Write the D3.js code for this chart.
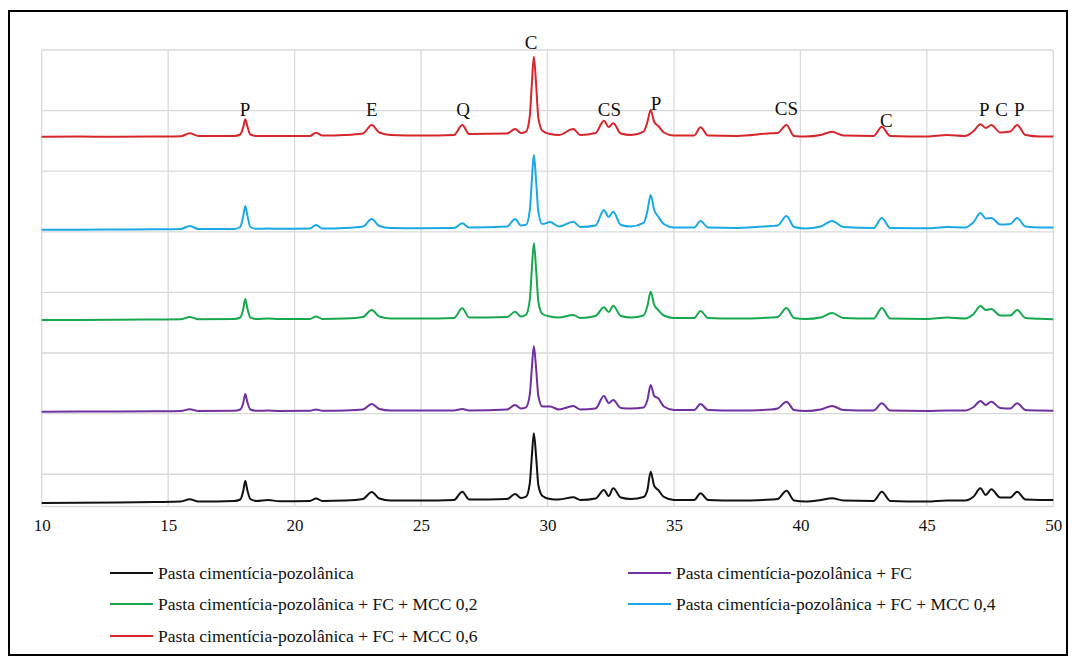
<!DOCTYPE html>
<html><head><meta charset="utf-8">
<script src="https://cdn.jsdelivr.net/npm/d3@7"></script>
<style>body{margin:0;background:#fff}svg{display:block}</style>
</head><body>
<script>
// 2θ positions (degrees) shared by all series
const twoTheta = [10.0,11.5,13.0,14.5,15.5,15.85,16.2,17.6,17.85,17.97,18.05,18.13,18.25,18.5,18.95,19.4,20.6,20.85,21.1,22.0,22.7,23.05,23.35,23.8,25.0,26.3,26.63,26.9,28.4,28.72,28.95,29.15,29.3,29.38,29.46,29.55,29.64,29.8,30.1,30.45,31.02,31.3,31.9,32.23,32.42,32.6,32.9,33.3,33.8,33.95,34.08,34.22,34.38,34.6,35.0,35.8,36.05,36.35,37.5,38.85,39.1,39.45,39.75,40.2,40.8,41.25,41.7,42.9,43.22,43.55,45.0,45.8,46.5,46.85,47.12,47.33,47.55,47.9,48.3,48.57,48.9,49.5,50.0];

// Intensities (counts, stacked as in the figure)
const pastaCP = [116,122,132,149,165,238,165,182,231,512,851,545,248,182,215,172,182,264,182,198,248,479,264,198,198,215,488,231,248,413,281,323,766,1647,2416,1647,700,347,248,231,304,215,264,545,347,601,297,248,314,545,1148,677,545,314,215,215,436,215,198,231,248,521,198,165,215,271,198,182,488,182,165,198,198,330,601,380,568,297,297,488,231,215,215];
const pastaFC = [3128,3135,3135,3142,3152,3208,3152,3158,3201,3416,3713,3449,3201,3158,3168,3152,3158,3201,3158,3168,3201,3383,3218,3168,3168,3168,3218,3168,3201,3350,3234,3274,3699,4551,5297,4551,3637,3297,3300,3201,3317,3201,3234,3647,3416,3515,3251,3234,3267,3515,4010,3647,3571,3300,3185,3185,3383,3185,3168,3201,3234,3458,3185,3152,3201,3317,3185,3168,3406,3168,3152,3168,3168,3284,3482,3350,3458,3251,3234,3406,3185,3168,3161];
const pastaMCC02 = [6155,6155,6161,6171,6178,6254,6178,6188,6237,6518,6848,6551,6237,6188,6204,6188,6188,6270,6188,6204,6254,6485,6270,6204,6204,6221,6541,6237,6254,6428,6270,6329,6824,7818,8686,7818,6749,6353,6270,6237,6320,6221,6287,6574,6419,6626,6287,6237,6303,6617,7088,6650,6485,6303,6221,6221,6452,6221,6204,6237,6254,6551,6221,6188,6237,6386,6221,6204,6551,6204,6188,6237,6204,6353,6617,6485,6518,6303,6303,6485,6221,6194,6178];
const pastaMCC04 = [9131,9134,9141,9148,9158,9257,9158,9158,9224,9587,9917,9620,9224,9164,9174,9164,9174,9290,9174,9191,9240,9488,9257,9191,9181,9191,9346,9207,9240,9488,9273,9296,9781,10751,11600,10751,9709,9319,9389,9240,9398,9224,9273,9785,9554,9728,9290,9240,9356,9752,10280,9785,9563,9323,9207,9207,9422,9207,9191,9257,9273,9587,9224,9174,9240,9422,9224,9191,9521,9191,9181,9224,9207,9389,9686,9504,9521,9306,9323,9521,9240,9207,9207];
const pastaMCC06 = [12200,12210,12200,12210,12220,12316,12227,12227,12276,12524,12778,12557,12276,12227,12227,12227,12227,12335,12243,12260,12309,12590,12342,12260,12243,12260,12590,12293,12309,12458,12326,12372,12893,13933,14843,13933,12814,12398,12293,12260,12458,12260,12326,12731,12524,12646,12309,12260,12375,12689,13085,12689,12557,12342,12243,12243,12514,12243,12227,12316,12326,12590,12227,12210,12260,12368,12243,12227,12533,12227,12210,12260,12227,12392,12613,12491,12590,12342,12375,12590,12260,12210,12210];

const seriesNames = ["Pasta cimentícia-pozolânica","Pasta cimentícia-pozolânica + FC","Pasta cimentícia-pozolânica + FC + MCC 0,2","Pasta cimentícia-pozolânica + FC + MCC 0,4","Pasta cimentícia-pozolânica + FC + MCC 0,6"];
const seriesColors = ["#111111","#7030a0","#17a84f","#1aa9e6","#d7262b"];
const seriesValues = [pastaCP, pastaFC, pastaMCC02, pastaMCC04, pastaMCC06];

const xTicks = [10,15,20,25,30,35,40,45,50];
const yGrid = [1065,3065,5065,7065,9065,11065,13065,15065];

// phase labels: text, 2θ, intensity of text baseline
const phaseText = ["P","E","Q","C","CS","P","CS","C","P","C","P"];
const phaseTheta = [18.04,23.05,26.66,29.35,32.45,34.29,39.45,43.4,47.27,47.96,48.66];
const phaseLevel = [12887,12887,12887,15098,12887,13085,12920,12533,12896,12896,12896];

// legend layout order (row-major, two columns)
const legendOrder = [0,1,2,3,4];

const SERIF = "'Liberation Serif', 'Times New Roman', Times, serif";
const W = 1076, H = 664;
const svg = d3.select("body").append("svg").attr("width", W).attr("height", H);
svg.append("rect").attr("width", W).attr("height", H).attr("fill", "#fff");
svg.append("rect").attr("x", 9).attr("y", 11).attr("width", 1058).attr("height", 644)
  .attr("fill", "none").attr("stroke", "#000").attr("stroke-width", 2);

const x = d3.scaleLinear().domain([10, 50]).range([41.7, 1053.3]);
const y = d3.scaleLinear().domain([0, 15065]).range([506.5, 50]);

const grid = svg.append("g").attr("stroke", "#d9d9d9").attr("stroke-width", 1.3);
grid.selectAll("line.v").data(xTicks).join("line").attr("class","v")
  .attr("x1", d => x(d)).attr("x2", d => x(d)).attr("y1", y(15065)).attr("y2", y(0));
grid.selectAll("line.h").data(yGrid).join("line").attr("class","h")
  .attr("x1", x(10)).attr("x2", x(50)).attr("y1", d => y(d)).attr("y2", d => y(d));
grid.append("line").attr("x1", x(10)).attr("x2", x(50)).attr("y1", y(0)).attr("y2", y(0));

const xAxis = svg.append("g").attr("transform", `translate(0,${y(0)})`)
  .call(d3.axisBottom(x).tickValues(xTicks).tickSize(0).tickPadding(12).tickFormat(d3.format("d")));
xAxis.attr("font-family", SERIF).attr("font-size", 17);
xAxis.select(".domain").remove();
xAxis.selectAll("text").style("font-family", SERIF).style("font-size", "17px").attr("fill", "#111");

const line = d3.line().x((d, i) => x(twoTheta[i])).y(d => y(d)).curve(d3.curveMonotoneX);
svg.append("g").selectAll("path").data(seriesValues).join("path")
  .attr("d", d => line(d)).attr("fill", "none")
  .attr("stroke", (d, i) => seriesColors[i]).attr("stroke-width", 2)
  .attr("stroke-linejoin", "round");

svg.append("g").selectAll("text").data(phaseText).join("text")
  .attr("x", (d, i) => x(phaseTheta[i])).attr("y", (d, i) => y(phaseLevel[i]))
  .attr("text-anchor", "middle")
  .style("font-family", SERIF).style("font-size", "19px").attr("fill", "#111").text(d => d);

const lg = svg.append("g");
const colX = [110, 628], rowY = [573, 604, 636];
legendOrder.forEach((s, k) => {
  const cx = colX[k % 2], cy = rowY[Math.floor(k / 2)];
  lg.append("line").attr("x1", cx).attr("x2", cx + 43).attr("y1", cy).attr("y2", cy)
    .attr("stroke", seriesColors[s]).attr("stroke-width", 2);
  lg.append("text").attr("x", cx + 48).attr("y", cy).attr("dy", "0.35em")
    .style("font-family", SERIF).style("font-size", "17.5px").attr("fill", "#111").text(seriesNames[s]);
});
</script>
</body></html>
